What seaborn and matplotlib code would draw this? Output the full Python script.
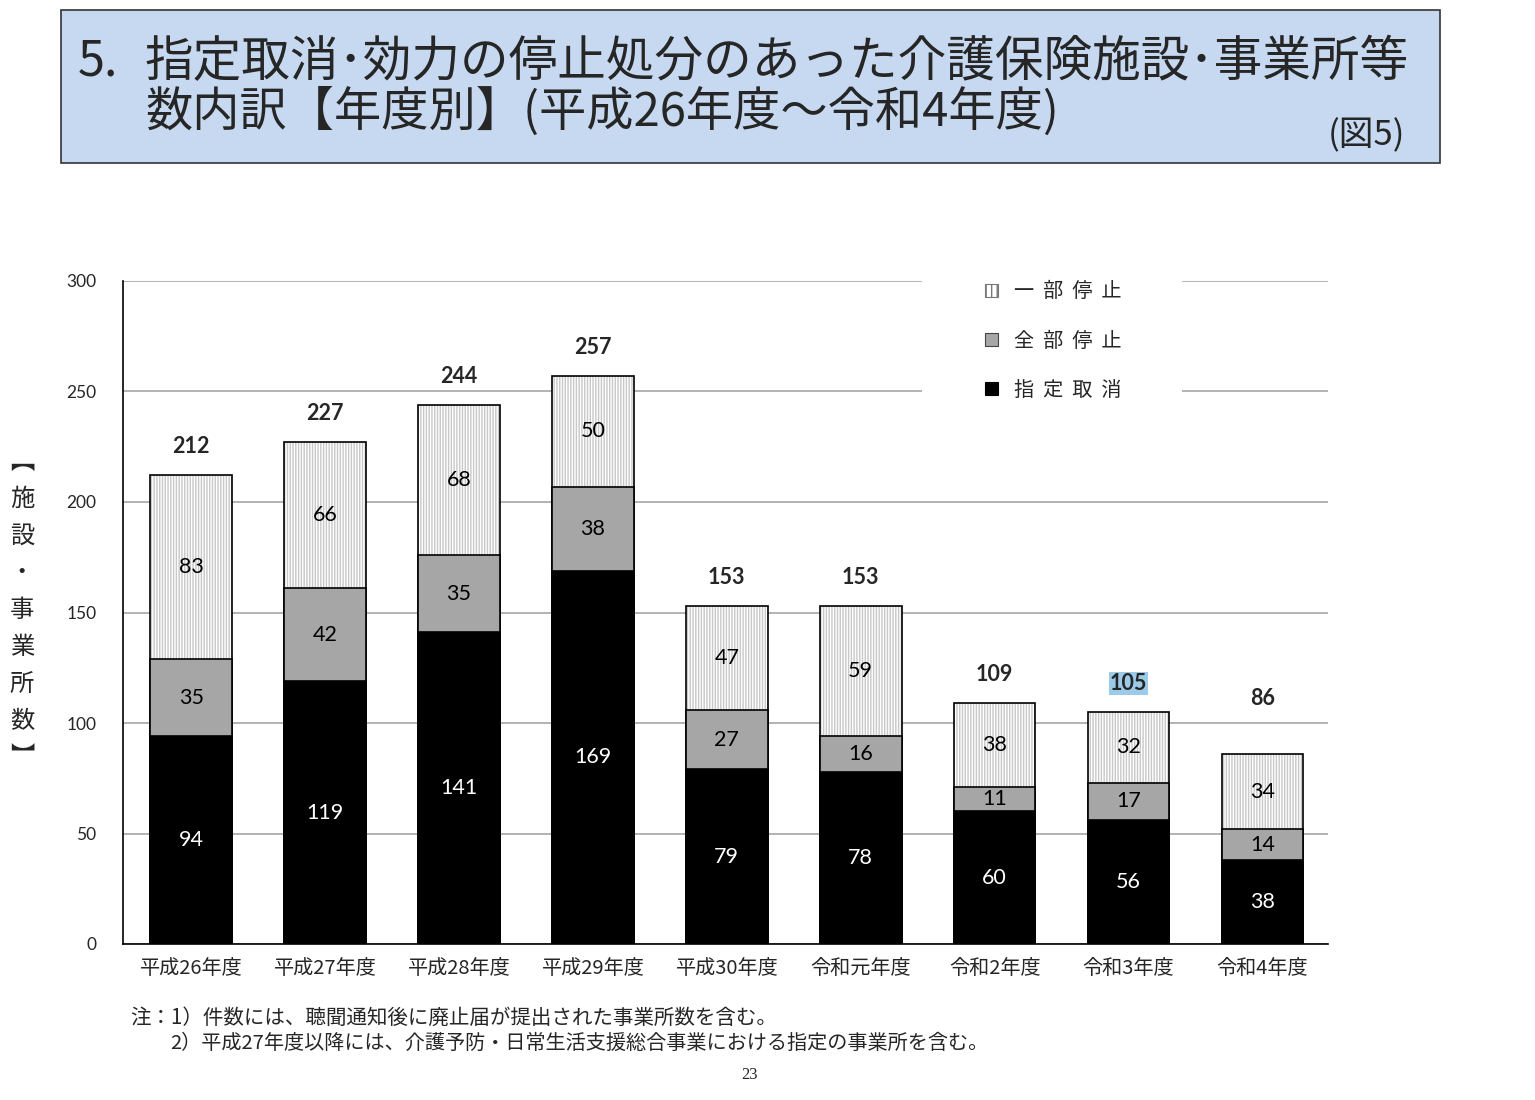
import matplotlib
matplotlib.use("Agg")
import matplotlib.pyplot as plt
import numpy as np
import pandas as pd
import seaborn as sns
from matplotlib.patches import Patch, Rectangle

years = ["平成26年度", "平成27年度", "平成28年度", "平成29年度", "平成30年度",
         "令和元年度", "令和2年度", "令和3年度", "令和4年度"]
revoked = [94, 119, 141, 169, 79, 78, 60, 56, 38]       # 指定取消
full_stop = [35, 42, 35, 38, 27, 16, 11, 17, 14]        # 全部停止
partial_stop = [83, 66, 68, 50, 47, 59, 38, 32, 34]     # 一部停止
y_ticks = [0, 50, 100, 150, 200, 250, 300]
legend_labels = ["一  部  停  止", "全  部  停  止", "指  定  取  消"]

sns.set_style("white")
plt.rcParams['font.family'] = ['Noto Sans CJK JP', 'DejaVu Sans']
plt.rcParams['hatch.linewidth'] = 1.0
NUM_FONT = ['Lato', 'Noto Sans CJK JP', 'DejaVu Sans']

df = pd.DataFrame({"year": years, "revoked": revoked,
                   "full": full_stop, "partial": partial_stop})
df["mid"] = df["revoked"] + df["full"]
df["total"] = df["mid"] + df["partial"]

fig = plt.figure(figsize=(15.35, 11), dpi=100)

# title box
fig.patches.append(Rectangle((61 / 1535, 1 - 163 / 1100), 1379 / 1535, 153 / 1100,
                             transform=fig.transFigure, facecolor="#c6d9f0",
                             edgecolor="#333333", linewidth=1.2, zorder=0))
fig.text(78 / 1535, 1 - 62 / 1100, "5.", fontsize=35, va="center", ha="left")
fig.text(145 / 1535, 1 - 62 / 1100, "指定取消･効力の停止処分のあった介護保険施設･事業所等",
         fontsize=35, va="center", ha="left")
fig.text(145 / 1535, 1 - 112 / 1100, "数内訳【年度別】(平成26年度～令和4年度)",
         fontsize=34, va="center", ha="left")
fig.text(1405 / 1535, 1 - 136 / 1100, "(図5)", fontsize=25, va="center", ha="right")

ax = fig.add_axes([123 / 1535, 1 - 944 / 1100, 1205 / 1535, 663 / 1100])
ax.set_axisbelow(True)
ax.yaxis.grid(True, color="#a6a6a6", linewidth=1.2)

bar_w = 0.61
# stacked bars drawn as overlapping cumulative heights
sns.barplot(data=df, x="year", y="total", color="white", edgecolor="#c8c8c8",
            linewidth=0, hatch="||||||", width=bar_w, saturation=1,
            errorbar=None, ax=ax, zorder=2)
sns.barplot(data=df, x="year", y="total", color="black", fill=False,
            linewidth=1.2, width=bar_w, errorbar=None, ax=ax, zorder=3)
sns.barplot(data=df, x="year", y="mid", color="#a6a6a6", edgecolor="black",
            linewidth=1.2, width=bar_w, saturation=1, errorbar=None, ax=ax, zorder=4)
sns.barplot(data=df, x="year", y="revoked", color="black", edgecolor="black",
            linewidth=1.2, width=bar_w, saturation=1, errorbar=None, ax=ax, zorder=5)

for i, row in df.iterrows():
    ax.text(i, row["revoked"] / 2, str(row["revoked"]), ha="center", va="center",
            color="white", fontsize=15.5, family=NUM_FONT, zorder=6)
    ax.text(i, row["revoked"] + row["full"] / 2, str(row["full"]), ha="center",
            va="center", color="black", fontsize=15.5, family=NUM_FONT, zorder=6)
    ax.text(i, row["mid"] + row["partial"] / 2, str(row["partial"]), ha="center",
            va="center", color="black", fontsize=15.5, family=NUM_FONT, zorder=6)
    bbox = dict(facecolor="#9ccbe8", edgecolor="none", pad=0.5) if row["year"] == "令和3年度" else None
    # the last label sits higher in the original
    lift = 32 if i == len(df) - 1 else 13
    ax.annotate(str(row["total"]), (i, row["total"]), xytext=(0, lift),
                textcoords="offset points", ha="center", va="bottom",
                fontsize=15.5, fontweight="bold", family=NUM_FONT, zorder=6, bbox=bbox)

ax.set_xlim(-0.51, 8.49)
ax.set_ylim(0, 300)
ax.set_yticks(y_ticks)
ax.set_yticklabels([str(t) for t in y_ticks], family=NUM_FONT, fontsize=12.5)
ax.tick_params(axis="y", direction="out", length=5, width=1, color="black", pad=14)
ax.tick_params(axis="x", length=0, labelsize=14.5, pad=10)
ax.set_xlabel("")
ax.set_ylabel("")
sns.despine(ax=ax)
ax.spines["left"].set_color("black")
ax.spines["bottom"].set_color("black")
ax.spines["left"].set_linewidth(1.2)
ax.spines["bottom"].set_linewidth(1.2)

# vertical y label
fig.text(22 / 1535, 1 - 610 / 1100, "\n".join("︻施設・事業所数︼"), fontsize=17.5,
         ha="center", va="center", linespacing=1.55)

# legend with white background covering gridlines
fig.patches.append(Rectangle((922 / 1535, 1 - 412 / 1100), 260 / 1535, 145 / 1100,
                             transform=fig.transFigure, facecolor="white",
                             edgecolor="none", zorder=1))
handles = [Patch(facecolor="white", edgecolor="#777777", hatch="|||", linewidth=0.8),
           Patch(facecolor="#a6a6a6", edgecolor="#444444", linewidth=0.8),
           Patch(facecolor="black", edgecolor="black", linewidth=0.8)]
fig.legend(handles, legend_labels, loc="center left",
           bbox_to_anchor=(975 / 1535, 1 - 341 / 1100), frameon=False,
           fontsize=14.5, handlelength=0.65, handleheight=0.65, handletextpad=0.8,
           labelspacing=1.4, borderpad=0)

# notes
fig.text(130 / 1535, 1 - 1018 / 1100, "注：1）件数には、聴聞通知後に廃止届が提出された事業所数を含む。",
         fontsize=14.8, ha="left", va="center")
fig.text(170 / 1535, 1 - 1043 / 1100,
         "2）平成27年度以降には、介護予防・日常生活支援総合事業における指定の事業所を含む。",
         fontsize=14.5, ha="left", va="center")
fig.text(750 / 1535, 1 - 1075 / 1100, "23", fontsize=12, ha="center", va="center",
         family="Liberation Serif")

fig.savefig("out.png", dpi=100)
